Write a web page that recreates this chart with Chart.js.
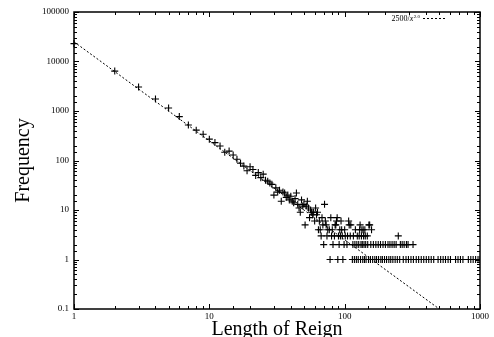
<!DOCTYPE html>
<html>
<head>
<meta charset="utf-8">
<title>Length of Reign</title>
<script src="https://cdn.jsdelivr.net/npm/chart.js@4.4.0/dist/chart.umd.min.js"></script>
<style>
  html, body { margin: 0; padding: 0; background: #fff; }
</style>
</head>
<body>
<canvas id="reignChart" width="494" height="337"></canvas>
<script>
// reign lengths 1..107 with their observed frequencies
const headLengths = [1, 2, 3, 4, 5, 6, 7, 8, 9, 10, 11, 12, 13, 14, 15, 16, 17, 18, 19, 20,
  21, 22, 23, 24, 25, 26, 27, 28, 29, 30, 31, 32, 33, 34, 35, 36, 37, 38, 39, 40,
  41, 42, 43, 44, 45, 46, 47, 48, 49, 50, 51, 52, 53, 54, 55, 56, 57, 58, 59, 60,
  61, 62, 63, 65, 68, 71, 72, 79, 87, 88, 94, 107];
const headCounts = [23000, 6400, 3050, 1750, 1150, 770, 520, 410, 340, 270, 230, 196, 147, 155, 129, 106, 88, 77, 62, 75,
  66, 50, 57, 45, 53, 40, 38, 35, 33, 20, 28, 23, 25, 15, 23, 22, 18, 20, 16, 19,
  15, 14, 17, 22, 13, 11, 9, 16, 12, 13, 5, 12, 15, 11, 7, 10, 9, 8, 9, 6,
  11, 8, 9, 6, 7, 13, 6, 7, 6, 7, 6, 6];

// the long tail: lengths seen only a handful of times
const seenOnce = [78, 89, 97, 114, 118, 122, 126, 131, 136, 140, 144, 150, 155, 161, 167, 172, 178, 185, 190, 197,
  204, 212, 219, 227, 236, 245, 255, 271, 284, 296, 309, 322, 338, 352, 368, 384, 401, 418, 436, 455,
  490, 512, 534, 556, 581, 605, 660, 688, 717, 748, 820, 855, 890, 928, 967, 1000];
const seenTwice = [70, 82, 91, 99, 104, 115, 119, 123, 127, 132, 135, 139, 143, 148, 156, 163, 170, 177, 184, 192,
  200, 209, 216, 224, 232, 240, 258, 266, 275, 286, 294, 320];
const seenThrice = [67, 74, 80, 84, 90, 93, 96, 101, 105, 110, 116, 124, 128, 133, 138, 142, 147, 249];
const seenFourTimes = [64, 66, 75, 77, 81, 92, 95, 100, 120, 129, 134, 137, 141, 158];
const seenFiveTimes = [69, 73, 85, 86, 108, 111, 130, 151, 153];

// power-law guide
const fitCoef = 25000;
const fitExp = 2.0;
const fitLabel = '2500/';
const fitLabelVar = 'x';
const fitLabelExp = '2.0';

const xTickValues = [1, 10, 100, 1000];
const xTickLabels = ['1', '10', '100', '1000'];
const yTickValues = [0.1, 1, 10, 100, 1000, 10000, 100000];
const yTickLabels = ['0.1', '1', '10', '100', '1000', '10000', '100000'];

const serif = '"Liberation Serif", "DejaVu Serif", serif';

const points = headLengths.map((x, i) => ({ x: x, y: headCounts[i] }));
[[seenOnce, 1], [seenTwice, 2], [seenThrice, 3], [seenFourTimes, 4], [seenFiveTimes, 5]].forEach(([list, n]) => {
  list.forEach(x => points.push({ x: x, y: n }));
});

const fitLine = [1, 1000].map(x => ({ x: x, y: fitCoef / Math.pow(x, fitExp) }));

function labelFor(values, labels) {
  return function (v) {
    const i = values.findIndex(d => Math.abs(v / d - 1) < 1e-6);
    return i < 0 ? '' : labels[i];
  };
}

function isDecade(v) {
  const l = Math.log10(v);
  return Math.abs(l - Math.round(l)) < 1e-6;
}

// gnuplot-ish frame: box border, inward ticks on all four sides, key in the corner
const framePlugin = {
  id: 'frame',
  afterDraw(chart) {
    const { ctx, chartArea: a, scales: { x, y } } = chart;
    ctx.save();
    ctx.strokeStyle = '#000';
    ctx.lineWidth = 1;
    ctx.beginPath();
    x.ticks.forEach(t => {
      const px = Math.round(x.getPixelForValue(t.value)) + 0.5;
      const len = isDecade(t.value) ? 5 : 3;
      ctx.moveTo(px, a.bottom); ctx.lineTo(px, a.bottom - len);
      ctx.moveTo(px, a.top); ctx.lineTo(px, a.top + len);
    });
    y.ticks.forEach(t => {
      const py = Math.round(y.getPixelForValue(t.value)) + 0.5;
      const len = isDecade(t.value) ? 5 : 3;
      ctx.moveTo(a.left, py); ctx.lineTo(a.left + len, py);
      ctx.moveTo(a.right, py); ctx.lineTo(a.right - len, py);
    });
    ctx.stroke();
    ctx.lineWidth = 1.5;
    ctx.strokeRect(a.left, a.top, a.right - a.left, a.bottom - a.top);

    // key: label then a short dashed sample
    const ky = a.top + 6.5;
    const lineStart = a.right - 57, lineEnd = a.right - 34;
    ctx.lineWidth = 1;
    ctx.setLineDash([2, 2]);
    ctx.beginPath();
    ctx.moveTo(lineStart, ky);
    ctx.lineTo(lineEnd, ky);
    ctx.stroke();
    ctx.setLineDash([]);

    ctx.fillStyle = '#000';
    ctx.textBaseline = 'alphabetic';
    ctx.font = '5px ' + serif;
    const supW = ctx.measureText(fitLabelExp).width;
    const right = lineStart - 3;
    ctx.fillText(fitLabelExp, right - supW, ky - 0.5);
    ctx.font = 'italic 8px ' + serif;
    const varW = ctx.measureText(fitLabelVar).width;
    ctx.fillText(fitLabelVar, right - supW - varW - 0.5, ky + 2.5);
    ctx.font = '8px ' + serif;
    const numW = ctx.measureText(fitLabel).width;
    ctx.fillText(fitLabel, right - supW - varW - 0.5 - numW, ky + 2.5);
    ctx.restore();
  }
};

new Chart(document.getElementById('reignChart'), {
  data: {
    datasets: [
      {
        type: 'line',
        data: fitLine,
        borderColor: '#000',
        borderWidth: 1,
        borderDash: [2, 2],
        pointRadius: 0,
        fill: false
      },
      {
        type: 'scatter',
        data: points,
        pointStyle: 'cross',
        pointRadius: 3.5,
        borderColor: '#000',
        backgroundColor: '#000',
        borderWidth: 1.1,
        clip: { left: 4, top: 0, right: 0, bottom: 0 }
      }
    ]
  },
  options: {
    responsive: false,
    animation: false,
    layout: { padding: { top: 12, right: 14, left: 0, bottom: 0 } },
    plugins: { legend: { display: false }, tooltip: { enabled: false } },
    scales: {
      x: {
        type: 'logarithmic',
        min: 1,
        max: 1000,
        afterFit: s => { s.height = 28; },
        grid: { display: false, drawTicks: false },
        border: { display: false },
        ticks: {
          autoSkip: false,
          maxRotation: 0,
          padding: 2,
          color: '#000',
          font: { family: serif, size: 9 },
          callback: labelFor(xTickValues, xTickLabels)
        },
        title: {
          display: true,
          text: 'Length of Reign',
          color: '#000',
          font: { family: serif, size: 20 },
          padding: { top: 0, bottom: -5 }
        }
      },
      y: {
        type: 'logarithmic',
        min: 0.1,
        max: 100000,
        afterFit: s => { s.width = 74; },
        grid: { display: false, drawTicks: false },
        border: { display: false },
        ticks: {
          autoSkip: false,
          padding: 5,
          color: '#000',
          font: { family: serif, size: 9 },
          callback: labelFor(yTickValues, yTickLabels)
        },
        title: {
          display: true,
          text: 'Frequency',
          color: '#000',
          font: { family: serif, size: 20 },
          padding: { top: 12, bottom: 0 }
        }
      }
    }
  },
  plugins: [framePlugin]
});
</script>
</body>
</html>
